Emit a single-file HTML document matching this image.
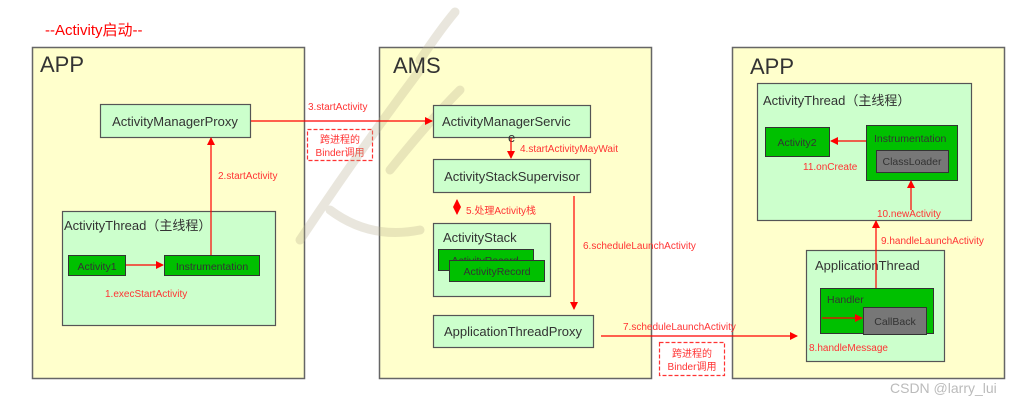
<!DOCTYPE html>
<html><head><meta charset="utf-8"><style>
html,body{margin:0;padding:0;background:#fff}
svg{display:block}
text{font-family:"Liberation Sans","Noto Sans CJK SC",sans-serif}
</style></head><body>
<svg width="1032" height="406" viewBox="0 0 1032 406" xmlns="http://www.w3.org/2000/svg">
<defs>
<marker id="a" markerWidth="8" markerHeight="8" refX="7" refY="4" orient="auto" markerUnits="userSpaceOnUse"><path d="M0,0 L8,4 L0,8 z" fill="#f00"/></marker>
<marker id="b" markerWidth="8" markerHeight="8" refX="1" refY="4" orient="auto" markerUnits="userSpaceOnUse"><path d="M8,0 L0,4 L8,8 z" fill="#f00"/></marker>
</defs>
<text x="45" y="35" font-size="15" fill="#f00">--Activity启动--</text>
<!-- Left APP -->
<rect x="32.5" y="47.5" width="272" height="331" fill="#ffffcc" stroke="#666" stroke-width="1.5"/>
<text x="40" y="72" font-size="22" fill="#333">APP</text>
<rect x="100.5" y="104.5" width="150" height="33" fill="#ccffcc" stroke="#555" stroke-width="1.2"/>
<text x="175" y="126" font-size="13" fill="#333" text-anchor="middle">ActivityManagerProxy</text>
<rect x="62.5" y="211.5" width="213" height="114" fill="#ccffcc" stroke="#555" stroke-width="1.2"/>
<text x="64" y="230" font-size="13" fill="#333">ActivityThread（主线程）</text>
<rect x="68.5" y="255.5" width="57" height="20" fill="#00c000" stroke="#333" stroke-width="1"/>
<text x="97" y="270" font-size="10.5" fill="#333" text-anchor="middle">Activity1</text>
<rect x="164.5" y="255.5" width="95" height="20" fill="#00c000" stroke="#333" stroke-width="1"/>
<text x="212" y="270" font-size="10.5" fill="#333" text-anchor="middle">Instrumentation</text>
<line x1="126" y1="265" x2="163" y2="265" stroke="#f00" stroke-width="1.2" marker-end="url(#a)"/>
<text x="105" y="297" font-size="10" fill="#f33">1.execStartActivity</text>
<line x1="211" y1="255" x2="211" y2="138" stroke="#f00" stroke-width="1.2" marker-end="url(#a)"/>
<text x="218" y="179" font-size="10" fill="#f33">2.startActivity</text>
<text x="308" y="110" font-size="10" fill="#f33">3.startActivity</text>
<rect x="307.5" y="129.5" width="65" height="31" fill="none" stroke="#f33" stroke-width="1.2" stroke-dasharray="4,2"/>
<text x="340" y="143" font-size="10" fill="#f33" text-anchor="middle">跨进程的</text>
<text x="340" y="156" font-size="10" fill="#f33" text-anchor="middle">Binder调用</text>
<!-- AMS -->
<rect x="379.5" y="47.5" width="272" height="331" fill="#ffffcc" stroke="#666" stroke-width="1.5"/>
<g opacity="0.3" stroke="#b8b090" stroke-width="9" fill="none" stroke-linecap="round">
<path d="M300,240 Q360,150 420,70"/><path d="M390,170 Q430,120 460,90"/><path d="M420,60 Q440,30 455,12"/><path d="M330,210 Q370,240 420,230"/>
</g>
<text x="393" y="73" font-size="22" fill="#333">AMS</text>
<rect x="433.5" y="105.5" width="157" height="32" fill="#ccffcc" stroke="#555" stroke-width="1.2"/>
<text x="442" y="126" font-size="13" fill="#333">ActivityManagerServic</text>
<text x="508" y="142" font-size="13" fill="#333">e</text>
<line x1="511" y1="138" x2="511" y2="158" stroke="#f00" stroke-width="1.2" marker-end="url(#a)"/>
<text x="520" y="152" font-size="10" fill="#f33">4.startActivityMayWait</text>
<rect x="433.5" y="159.5" width="157" height="33" fill="#ccffcc" stroke="#555" stroke-width="1.2"/>
<text x="512" y="181" font-size="13" fill="#333" text-anchor="middle">ActivityStackSupervisor</text>
<line x1="457" y1="200" x2="457" y2="214" stroke="#f00" stroke-width="1.2" marker-end="url(#a)" marker-start="url(#b)"/>
<text x="466" y="214" font-size="10" fill="#f33">5.处理Activity栈</text>
<rect x="433.5" y="223.5" width="117" height="73" fill="#ccffcc" stroke="#555" stroke-width="1.2"/>
<text x="443" y="242" font-size="13" fill="#333">ActivityStack</text>
<rect x="438.5" y="249.5" width="95" height="21" fill="#00c000" stroke="#333"/>
<text x="485" y="264" font-size="10.5" fill="#333" text-anchor="middle">ActivityRecord</text>
<rect x="449.5" y="260.5" width="95" height="21" fill="#00c000" stroke="#333"/>
<text x="497" y="275" font-size="10.5" fill="#333" text-anchor="middle">ActivityRecord</text>
<line x1="574" y1="196" x2="574" y2="309" stroke="#f00" stroke-width="1.2" marker-end="url(#a)"/>
<text x="583" y="249" font-size="10" fill="#f33">6.scheduleLaunchActivity</text>
<rect x="433.5" y="315.5" width="160" height="32" fill="#ccffcc" stroke="#555" stroke-width="1.2"/>
<text x="513" y="336" font-size="13" fill="#333" text-anchor="middle">ApplicationThreadProxy</text>
<rect x="659.5" y="342.5" width="65" height="33" fill="none" stroke="#f33" stroke-width="1.2" stroke-dasharray="4,2"/>
<text x="692" y="357" font-size="10" fill="#f33" text-anchor="middle">跨进程的</text>
<text x="692" y="370" font-size="10" fill="#f33" text-anchor="middle">Binder调用</text>
<!-- Right APP -->
<rect x="732.5" y="47.5" width="272" height="331" fill="#ffffcc" stroke="#666" stroke-width="1.5"/>
<text x="750" y="74" font-size="22" fill="#333">APP</text>
<rect x="757.5" y="83.5" width="214" height="137" fill="#ccffcc" stroke="#555" stroke-width="1.2"/>
<text x="763" y="105" font-size="13" fill="#333">ActivityThread（主线程）</text>
<rect x="765.5" y="127.5" width="64" height="29" fill="#00c000" stroke="#333"/>
<text x="797" y="146" font-size="10.5" fill="#333" text-anchor="middle">Activity2</text>
<rect x="866.5" y="125.5" width="91" height="55" fill="#00c000" stroke="#333"/>
<text x="874" y="142" font-size="10.5" fill="#333">Instrumentation</text>
<rect x="876.5" y="150.5" width="72" height="22" fill="#777" stroke="#333"/>
<text x="912" y="165" font-size="10.5" fill="#333" text-anchor="middle">ClassLoader</text>
<line x1="866" y1="141" x2="831" y2="141" stroke="#f00" stroke-width="1.2" marker-end="url(#a)"/>
<text x="803" y="170" font-size="10" fill="#f33">11.onCreate</text>
<line x1="911" y1="210" x2="911" y2="181" stroke="#f00" stroke-width="1.2" marker-end="url(#a)"/>
<text x="877" y="217" font-size="10" fill="#f33">10.newActivity</text>
<rect x="806.5" y="250.5" width="138" height="111" fill="#ccffcc" stroke="#555" stroke-width="1.2"/>
<text x="815" y="270" font-size="13" fill="#333">ApplicationThread</text>
<rect x="820.5" y="288.5" width="113" height="45" fill="#00c000" stroke="#333"/>
<text x="827" y="303" font-size="10.5" fill="#333">Handler</text>
<rect x="863.5" y="307.5" width="63" height="27" fill="#777" stroke="#333"/>
<text x="895" y="325" font-size="10.5" fill="#333" text-anchor="middle">CallBack</text>
<line x1="822" y1="318" x2="862" y2="318" stroke="#f00" stroke-width="1.2" marker-end="url(#a)"/>
<text x="809" y="351" font-size="10" fill="#f33">8.handleMessage</text>
<line x1="876" y1="288" x2="876" y2="221" stroke="#f00" stroke-width="1.2" marker-end="url(#a)"/>
<text x="881" y="244" font-size="10" fill="#f33">9.handleLaunchActivity</text>
<!-- cross-box connectors on top -->
<line x1="251" y1="121" x2="432" y2="121" stroke="#f00" stroke-width="1.2" marker-end="url(#a)"/>
<line x1="601" y1="336" x2="797" y2="336" stroke="#f00" stroke-width="1.2" marker-end="url(#a)"/>
<text x="623" y="330" font-size="10" fill="#f33">7.scheduleLaunchActivity</text>
<text x="890" y="393" font-size="14" fill="#bbb">CSDN @larry_lui</text>
</svg>
</body></html>
